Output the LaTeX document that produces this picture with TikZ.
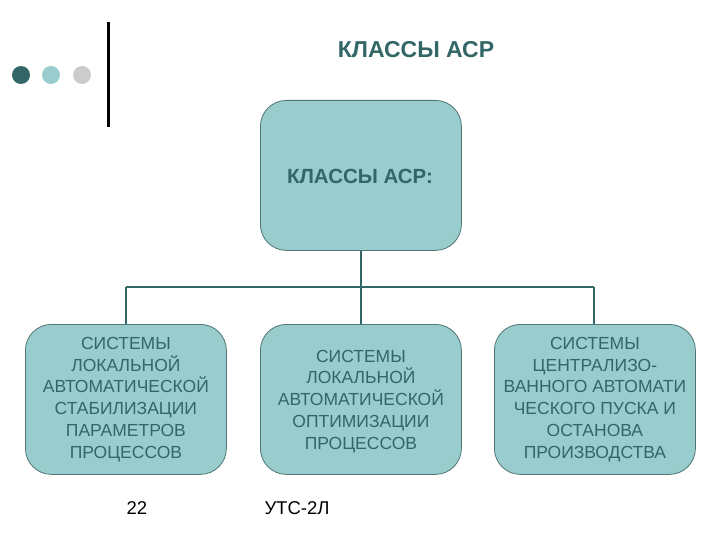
\documentclass[tikz,border=0pt]{standalone}
\usepackage{fontspec}
\setmainfont{Liberation Sans}
\definecolor{teal1}{HTML}{336666}
\definecolor{boxfill}{HTML}{99CCCC}
\definecolor{boxline}{HTML}{4F7575}
\definecolor{dotgrey}{HTML}{CCCCCC}
\begin{document}
\begin{tikzpicture}[x=1pt,y=-1pt,
  box/.style={draw=boxline,line width=0.8pt,fill=boxfill,rounded corners=26pt,
    minimum width=201pt,minimum height=150pt,anchor=north west,inner sep=0pt},
  boxtext/.style={text=teal1,font=\fontsize{17.5}{21.8}\selectfont,align=center},
  conn/.style={draw=teal1,line width=2pt}]
\useasboundingbox (0,0) rectangle (720,540);
\fill[white] (0,0) rectangle (720,540);
% decorations
\fill[teal1] (21,75) circle (9);
\fill[boxfill] (51,75) circle (9);
\fill[dotgrey] (82,75) circle (9);
\draw[line width=3pt] (108,22) -- (108,127);
\node[text=teal1,font=\fontsize{23}{26}\selectfont\bfseries] (title) at (416,50) {КЛАССЫ АСР};
% boxes
\node[box] (top) at (260,100) {};
\node[text=teal1,font=\fontsize{20.5}{24}\selectfont\bfseries] (toptext) at (360,176) {КЛАССЫ АСР:};
\node[box] (left) at (25,324) {};
\node[box] (mid) at (260,324) {};
\node[box] (right) at (494,324) {};
\node[boxtext] (lt) at (left.center) {СИСТЕМЫ\\ЛОКАЛЬНОЙ\\АВТОМАТИЧЕСКОЙ\\СТАБИЛИЗАЦИИ\\ПАРАМЕТРОВ\\ПРОЦЕССОВ};
\node[boxtext] (mt) at ([yshift=-2pt]mid.center) {СИСТЕМЫ\\ЛОКАЛЬНОЙ\\АВТОМАТИЧЕСКОЙ\\ОПТИМИЗАЦИИ\\ПРОЦЕССОВ};
\node[boxtext] (rt) at (right.center) {СИСТЕМЫ\\ЦЕНТРАЛИЗО-\\ВАННОГО АВТОМАТИ\\ЧЕСКОГО ПУСКА И\\ОСТАНОВА\\ПРОИЗВОДСТВА};
% connectors
\coordinate (hl) at (126,287);
\coordinate (hr) at (594,287);
\draw[conn] (top.south) -- (mid.north);
\draw[conn] (hl) -- (hr);
\draw[conn] (hl) -- (hl |- left.north);
\draw[conn] (hr) -- (hr |- right.north);
% footer
\node[font=\fontsize{18.5}{20}\selectfont] (pg) at (137,508) {22};
\node[font=\fontsize{18.5}{20}\selectfont] (ft) at (297,508) {УТС-2Л};
\end{tikzpicture}
\end{document}
